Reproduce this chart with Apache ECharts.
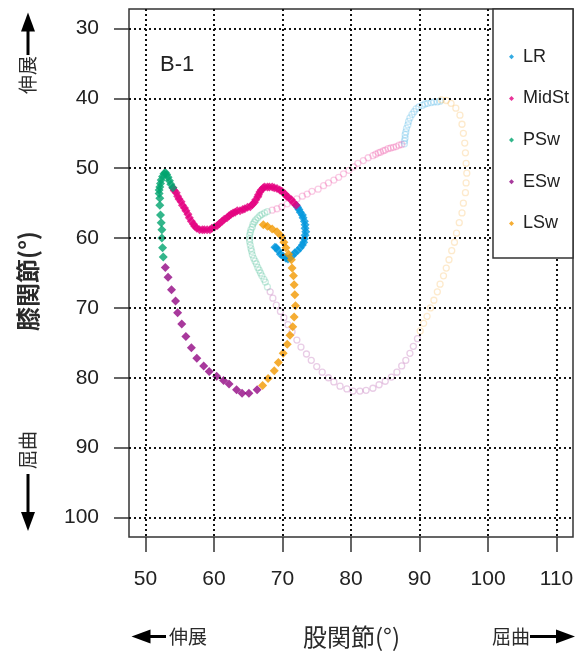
<!DOCTYPE html>
<html>
<head>
<meta charset="utf-8">
<script src="https://cdn.jsdelivr.net/npm/echarts@6/dist/echarts.min.js"></script>
<style>
  html, body { margin: 0; padding: 0; background: #fff; }
  #chart { width: 587px; height: 655px; }
</style>
</head>
<body>
<div id="chart"></div>
<script>
// Axis ticks (hip = x, knee = y)
const hipTicks = [50, 60, 70, 80, 90, 100, 110];
const kneeTicks = [30, 40, 50, 60, 70, 80, 90, 100];

const phases = ['LR', 'MidSt', 'PSw', 'ESw', 'LSw'];
const phaseColors = ['#0096dc', '#e4007f', '#00a46e', '#920783', '#f39800'];
const phaseRGB = ['0,150,220', '228,0,127', '0,164,110', '146,7,131', '243,152,0'];

// B-1 trajectory, [hip °, knee °] per frame
const b1LR = [[68.9,61.3],[69.1,61.4],[69.4,61.8],[69.7,62.3],[70.1,62.6],[70.5,62.9],[70.8,63.0],[71.1,62.8],[71.5,62.5],[71.8,62.1],[72.2,61.8],[72.6,61.4],[72.9,61.0],[73.1,60.6],[73.2,60.1],[73.3,59.6],[73.4,59.1],[73.3,58.6],[73.3,58.1],[73.2,57.6],[73.0,57.1],[72.9,56.7],[72.6,56.3],[72.4,55.9],[72.2,55.6],[72.0,55.3]];
const b1MidSt = [[72.0,55.3],[71.6,54.9],[71.3,54.5],[70.9,54.2],[70.6,54.0],[70.3,53.6],[69.9,53.3],[69.6,53.1],[69.2,52.9],[68.8,52.8],[68.5,52.7],[68.1,52.7],[67.8,52.7],[67.4,52.7],[67.2,52.8],[66.9,53.1],[66.7,53.4],[66.5,53.8],[66.4,54.1],[66.1,54.5],[65.9,54.9],[65.6,55.2],[65.3,55.5],[64.9,55.6],[64.5,55.8],[64.2,55.9],[63.8,56.1],[63.4,56.1],[63.1,56.3],[62.8,56.4],[62.5,56.6],[62.2,56.8],[61.9,57.1],[61.5,57.3],[61.2,57.6],[60.8,57.9],[60.5,58.2],[60.1,58.4],[59.7,58.6],[59.4,58.8],[59.0,58.8],[58.6,58.8],[58.3,58.8],[57.9,58.8],[57.5,58.6],[57.2,58.3],[57.0,58.0],[56.7,57.6],[56.4,57.1],[56.2,56.6],[55.9,56.1],[55.7,55.7],[55.4,55.3],[55.2,54.8],[54.9,54.4],[54.7,54.0],[54.5,53.5],[54.2,53.2],[54.0,52.8]];
const b1PSw = [[54.0,52.8],[53.7,52.3],[53.5,51.8],[53.3,51.3],[53.1,50.9],[52.9,50.6],[52.7,50.8],[52.5,51.2],[52.3,51.7],[52.2,52.2],[52.1,52.7],[52.0,53.1],[52.0,53.6],[52.1,54.3],[52.1,55.3],[52.2,56.7],[52.3,57.8],[52.4,58.8],[52.4,60.0],[52.5,61.4],[52.6,62.7]];
const b1ESw = [[52.9,64.2],[53.3,65.6],[53.8,67.4],[54.4,69.0],[54.7,70.7],[55.3,72.3],[55.9,74.1],[56.7,75.7],[57.5,77.2],[58.5,78.3],[59.3,79.1],[60.4,79.8],[61.4,80.4],[62.2,80.9],[63.3,81.7],[64.1,82.2],[65.1,82.2],[66.3,81.7]];
const b1LSw = [[67.1,81.1],[67.9,80.1],[68.8,79.0],[69.4,77.8],[70.1,76.5],[70.7,75.2],[71.1,73.9],[71.5,72.7],[71.7,71.3],[71.9,69.7],[71.8,68.1],[71.7,66.7],[71.6,65.4],[71.4,64.3],[71.3,63.1],[70.9,62.3],[70.5,61.4],[70.2,60.6],[69.8,59.7],[69.2,59.1],[68.5,58.7],[67.8,58.3],[67.2,58.1]];

// Reference trajectory, [hip °, knee °] per frame
const refLR = [[93.0,40.4],[92.6,40.5],[92.1,40.5],[91.7,40.6],[91.2,40.7],[90.8,40.8],[90.4,41.0],[89.9,41.2],[89.5,41.5],[89.2,41.9],[88.9,42.3],[88.6,42.8],[88.4,43.3],[88.3,43.8],[88.1,44.3],[88.0,44.8],[87.9,45.2],[87.9,45.7],[87.8,46.1],[87.8,46.5]];
const refMidSt = [[87.4,46.6],[87.0,46.7],[86.6,46.9],[86.2,47.0],[85.8,47.1],[85.4,47.2],[85.0,47.4],[84.7,47.5],[84.3,47.7],[84.0,47.8],[83.6,48.0],[83.2,48.2],[82.5,48.5],[81.8,48.9],[81.0,49.3],[80.4,49.8],[79.7,50.3],[78.9,50.8],[78.2,51.3],[77.5,51.7],[76.7,52.1],[76.0,52.5],[75.2,53.0],[74.3,53.3],[73.6,53.7],[72.9,54.0],[72.1,54.4],[71.4,54.8],[70.7,55.1],[69.9,55.5],[69.2,55.8],[68.5,56.0]];
const refPSw = [[67.8,56.2],[67.4,56.4],[67.0,56.6],[66.7,56.8],[66.4,57.1],[66.1,57.4],[65.9,57.7],[65.7,58.0],[65.6,58.4],[65.4,58.8],[65.3,59.2],[65.2,59.6],[65.2,60.1],[65.2,60.5],[65.3,61.0],[65.4,61.5],[65.5,61.9],[65.6,62.4],[65.8,62.9],[66.0,63.3],[66.2,63.7],[66.4,64.2],[66.6,64.6],[66.8,65.0],[67.0,65.4],[67.3,65.9],[67.5,66.3],[67.8,67.0]];
const refESw = [[68.2,67.7],[68.6,68.6],[69.1,69.6],[69.7,70.5],[70.2,71.4],[70.8,72.4],[71.4,73.4],[72.1,74.6],[72.7,75.6],[73.5,76.6],[74.2,77.5],[75.0,78.4],[75.8,79.2],[76.7,80.0],[77.5,80.6],[78.4,81.2],[79.4,81.6],[80.3,81.9],[81.3,81.9],[82.2,81.8],[83.2,81.5],[84.1,81.0],[85.0,80.5],[85.9,79.9],[86.7,79.2],[87.4,78.3],[88.0,77.5],[88.6,76.5],[89.1,75.5],[89.7,74.4]];
const refLSw = [[90.1,73.3],[90.6,72.2],[91.1,71.2],[91.6,70.0],[92.1,68.9],[92.6,67.7],[93.0,66.6],[93.5,65.4],[93.9,64.3],[94.3,63.1],[94.7,61.8],[95.1,60.6],[95.4,59.3],[95.8,57.8],[96.2,56.4],[96.4,55.0],[96.7,53.5],[96.8,52.1],[96.9,50.7],[96.8,49.3],[96.7,47.8],[96.6,46.4],[96.4,45.0],[96.2,43.7],[95.9,42.4],[95.3,41.4],[94.6,40.7],[93.9,40.3],[93.2,40.2]];

const b1Sets = [b1LR, b1MidSt, b1PSw, b1ESw, b1LSw];
const refSets = [refLR, refMidSt, refPSw, refESw, refLSw];

const chart = echarts.init(document.getElementById('chart'), null, { renderer: 'canvas' });

const LATIN = "'Liberation Sans', Arial, sans-serif";
const CJK = "'Noto Sans CJK JP', 'Noto Sans', sans-serif";

// faint reference loop: hollow rings
const refSeries = refSets.map((d, i) => ({
  name: phases[i] + '-ref',
  type: 'scatter',
  data: d,
  symbol: 'circle',
  symbolSize: 6,
  silent: true,
  z: 2,
  itemStyle: { color: 'rgba(255,255,255,0)', borderColor: 'rgba(' + phaseRGB[i] + ',0.25)', borderWidth: 1.3 }
}));

// B-1 loop: filled diamonds
const b1Series = b1Sets.map((d, i) => ({
  name: phases[i],
  type: 'scatter',
  data: d,
  symbol: 'diamond',
  symbolSize: 9,
  silent: true,
  z: 3,
  itemStyle: { color: phaseColors[i] }
}));

// dotted grid on the tick values
const gridSeries = {
  name: 'grid',
  type: 'scatter',
  data: [],
  silent: true,
  z: 1,
  markLine: {
    silent: true,
    symbol: 'none',
    animation: false,
    label: { show: false },
    lineStyle: { color: '#111', type: [2, 3], width: 2 },
    emphasis: { disabled: true },
    data: hipTicks.map(v => ({ xAxis: v })).concat(kneeTicks.map(v => ({ yAxis: v })))
  }
};

function arrow(tip, dir) {
  // tip: [x, y]; dir: 'up' | 'down' | 'left' | 'right'
  const [x, y] = tip, L = 19, W = 7;
  let pts;
  if (dir === 'up') pts = [[x, y], [x - W, y + L], [x + W, y + L]];
  if (dir === 'down') pts = [[x, y], [x - W, y - L], [x + W, y - L]];
  if (dir === 'left') pts = [[x, y], [x + L, y - W], [x + L, y + W]];
  if (dir === 'right') pts = [[x, y], [x - L, y - W], [x - L, y + W]];
  return { type: 'polygon', shape: { points: pts }, style: { fill: '#000' }, z: 50, silent: true };
}
function bar(x1, y1, x2, y2) {
  return { type: 'line', shape: { x1, y1, x2, y2 }, style: { stroke: '#000', lineWidth: 3 }, z: 50, silent: true };
}
function label(text, x, y, size, rotate, weight) {
  return {
    type: 'text', x, y, rotation: rotate ? Math.PI / 2 : 0, z: 50, silent: true,
    style: { text, x: 0, y: 0, align: 'center', verticalAlign: 'middle', fill: '#2a2a2a', font: (weight || 'normal') + ' ' + size + 'px ' + CJK }
  };
}

chart.setOption({
  animation: false,
  backgroundColor: '#fff',
  grid: { left: 129, right: 14, top: 9, bottom: 118, show: true, borderColor: '#333', borderWidth: 1.5, backgroundColor: 'rgba(0,0,0,0)' },
  xAxis: {
    type: 'value', min: 47.6, max: 112.4,
    axisLine: { show: false },
    axisTick: { show: true, inside: false, length: 15, customValues: hipTicks, lineStyle: { color: '#333', width: 1.5 } },
    axisLabel: { customValues: hipTicks, margin: 32, fontSize: 21, fontFamily: LATIN, color: '#222' },
    splitLine: { show: false }
  },
  yAxis: {
    type: 'value', inverse: true, min: 27.2, max: 102.8,
    axisLine: { show: false },
    axisTick: { show: true, inside: false, length: 15, customValues: kneeTicks, lineStyle: { color: '#333', width: 1.5 } },
    axisLabel: { customValues: kneeTicks, margin: 30, fontSize: 21, fontFamily: LATIN, color: '#222' },
    splitLine: { show: false }
  },
  legend: {
    data: phases,
    orient: 'vertical',
    left: 504, top: 41.7,
    itemGap: 21.7,
    itemWidth: 5, itemHeight: 5,
    icon: 'diamond',
    selectedMode: false,
    z: 60,
    textStyle: { fontSize: 18, fontFamily: LATIN, color: '#222', lineHeight: 20, padding: [0, 0, 0, 4] }
  },
  graphic: [
    { type: 'rect', shape: { x: 493, y: 9, width: 80, height: 249 }, style: { fill: '#fff', stroke: '#333', lineWidth: 1.5 }, z: 40, silent: true },
    { type: 'text', x: 160, y: 65, z: 50, silent: true, style: { text: 'B-1', x: 0, y: 0, align: 'left', verticalAlign: 'middle', fill: '#222', font: '22px ' + LATIN } },
    // knee axis direction marks
    arrow([28, 12.5], 'up'), bar(28, 29, 28, 55),
    label('伸展', 28, 75, 19, true),
    label('膝関節(°)', 28, 281, 24, true, 'bold'),
    label('屈曲', 28, 450, 19, true),
    bar(28, 474, 28, 515), arrow([28, 531], 'down'),
    // hip axis direction marks
    arrow([131.5, 636.5], 'left'), bar(147, 636.5, 166, 636.5),
    label('伸展', 188, 636.5, 19, false),
    label('股関節(°)', 351.5, 636.5, 24, false),
    label('屈曲', 511, 636.5, 19, false),
    bar(530, 636.5, 559, 636.5), arrow([575, 636.5], 'right')
  ],
  series: [gridSeries].concat(refSeries, b1Series)
});
</script>
</body>
</html>
